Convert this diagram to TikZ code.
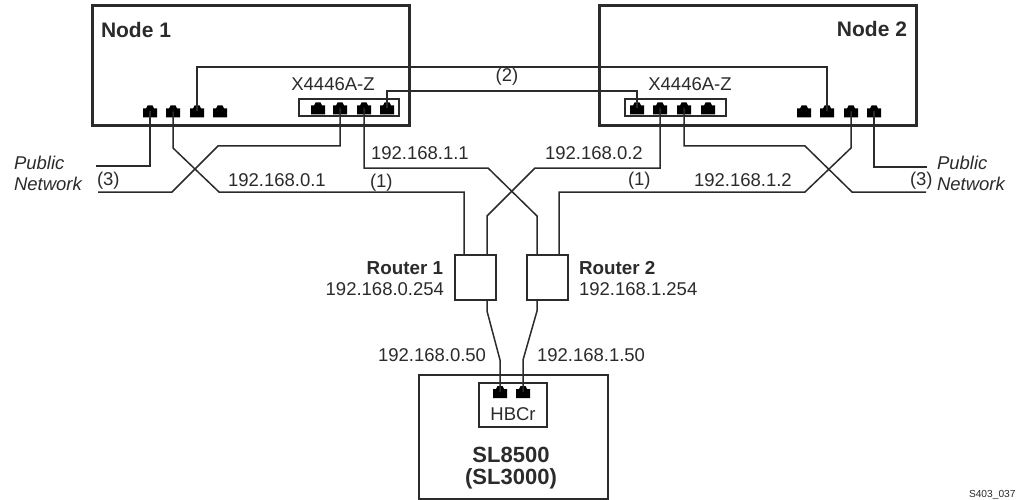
\documentclass[tikz,border=0pt]{standalone}
\usepackage{fontspec}
\setmainfont{Liberation Sans}
\definecolor{ink}{HTML}{2B2B2B}
\newcommand{\regfont}{\fontsize{18.5}{20}\selectfont}
\newcommand{\boldfont}{\fontsize{21}{24}\selectfont\bfseries}
\tikzset{
  x=1pt,y=-1pt,
  every node/.style={inner sep=0pt,outer sep=0pt,text=ink},
  heavybox/.style={draw=ink,line width=3pt,rectangle,anchor=north west},
  cardbox/.style={draw=ink,line width=1.4pt,rectangle,anchor=north west},
  jack/.style={rectangle,minimum width=14pt,minimum height=12pt,
    path picture={\fill[black] (path picture bounding box.south west) -- ++(0pt,9pt) -- ++(3pt,0pt) -- ++(1.5pt,3pt) -- ++(5pt,0pt) -- ++(1.5pt,-3pt) -- ++(3pt,0pt) -- ++(0pt,-9pt) -- cycle;}},
  wire/.style={draw=ink,line width=1.5pt},
  reg/.style={font=\regfont},
  ital/.style={font=\regfont\itshape},
  hb/.style={font=\boldfont},
  rb/.style={font=\fontsize{18.8}{22}\selectfont\bfseries},
  lb/.style={font=\fontsize{22}{26}\selectfont\bfseries},
}
\newcommand{\jackat}[3]{\node[jack] (#1) at (#2,#3) {};}
\begin{document}
\begin{tikzpicture}
\useasboundingbox (0,0) rectangle (1017,500);
% boxes
\node[heavybox,minimum width=317pt,minimum height=120pt] (n1) at (92,6) {};
\node[heavybox,minimum width=317pt,minimum height=120pt] (n2) at (599,6) {};
\node[heavybox,minimum width=41pt,minimum height=45pt,line width=2.5pt] (r1) at (455,255) {};
\node[heavybox,minimum width=41pt,minimum height=45pt,line width=2.5pt] (r2) at (527,255) {};
\node[heavybox,minimum width=189pt,minimum height=124pt,line width=2.5pt] (lib) at (419,375) {};
\node[cardbox,minimum width=100pt,minimum height=17pt] (c1) at (299,99) {};
\node[cardbox,minimum width=101pt,minimum height=17pt] (c2) at (625,99) {};
\node[cardbox,minimum width=68pt,minimum height=44pt] (hb) at (479,383) {};
% jacks
\jackat{a1}{150}{111.5}\jackat{a2}{173}{111.5}\jackat{a3}{197}{111.5}\jackat{a4}{220}{111.5}
\jackat{b1}{318}{108.5}\jackat{b2}{340}{108.5}\jackat{b3}{364}{108.5}\jackat{b4}{387}{108.5}
\jackat{d1}{637}{108.5}\jackat{d2}{660}{108.5}\jackat{d3}{684}{108.5}\jackat{d4}{708}{108.5}
\jackat{e1}{804}{111.5}\jackat{e2}{827}{111.5}\jackat{e3}{851}{111.5}\jackat{e4}{874}{111.5}
\jackat{h1}{500}{392}\jackat{h2}{523}{392}
% free ends
\coordinate (pub1a) at (96,166);
\coordinate (pub1b) at (98,192);
\coordinate (pub2a) at (927,167);
\coordinate (pub2b) at (926,192);
% wires
\draw[wire] (a3.center) -- (197,67) -- (827,67) -- (e2.center);
\draw[wire] (b4.center) -- (387,91) -- (637,91) -- (d1.center);
\draw[wire] (a1.center) -- (150,166) -- (pub1a);
\draw[wire] (b2.center) -- (340,146) -- (218,146) -- (172,192) -- (pub1b);
\draw[wire] (a2.center) -- (173,148) -- (219,192) -- (464,192) -- (464,255);
\draw[wire] (b3.center) -- (364,168) -- (488,168) -- (537,216) -- (537,255);
\draw[wire] (d2.center) -- (660,168) -- (535,168) -- (487,216) -- (487,255);
\draw[wire] (e3.center) -- (851,148) -- (805,192) -- (559,192) -- (559,255);
\draw[wire] (d3.center) -- (684,146) -- (805,146) -- (852,192) -- (pub2b);
\draw[wire] (e4.center) -- (874,167) -- (pub2a);
\draw[wire] (487,300) -- (487,311) -- (500,360) -- (h1.center);
\draw[wire] (537,300) -- (537,311) -- (523,360) -- (h2.center);
% labels
\node[hb,anchor=west] (t1) at (101,30) {Node 1};
\node[hb,anchor=east] (t2) at (907,29) {Node 2};
\node[reg] (t3) at (333,84) {X4446A-Z};
\node[reg] (t4) at (690,84) {X4446A-Z};
\node[reg] (t5) at (507,77) {(2)};
\node[ital,anchor=west] (t6) at (14,163) {Public};
\node[ital,anchor=west] (t7) at (14,184) {Network};
\node[reg,anchor=west] (t8) at (97,181) {(3)};
\node[reg,anchor=west] (t9) at (228,180) {192.168.0.1};
\node[reg,anchor=west] (t10) at (370,183) {(1)};
\node[reg,anchor=west] (t11) at (371,153) {192.168.1.1};
\node[reg,anchor=west] (t12) at (545,153) {192.168.0.2};
\node[reg,anchor=west] (t13) at (628,181) {(1)};
\node[reg,anchor=west] (t14) at (694,180) {192.168.1.2};
\node[reg,anchor=west] (t15) at (910,181) {(3)};
\node[ital,anchor=west] (t16) at (937,163) {Public};
\node[ital,anchor=west] (t17) at (937,184) {Network};
\node[rb,anchor=east] (t18) at (443,268) {Router 1};
\node[reg,anchor=east] (t19) at (444,289) {192.168.0.254};
\node[rb,anchor=west] (t20) at (579,268) {Router 2};
\node[reg,anchor=west] (t21) at (579,289) {192.168.1.254};
\node[reg,anchor=west] (t22) at (378,355) {192.168.0.50};
\node[reg,anchor=west] (t23) at (537,355) {192.168.1.50};
\node[reg] (t24) at (513,414) {HBCr};
\node[lb] (t25) at (511,455) {SL8500};
\node[lb] (t26) at (511,479) {(SL3000)};
\node[anchor=base west,font=\fontsize{10.2}{12}\selectfont] (t27) at (969,497.5) {S403\_037};
\end{tikzpicture}
\end{document}
